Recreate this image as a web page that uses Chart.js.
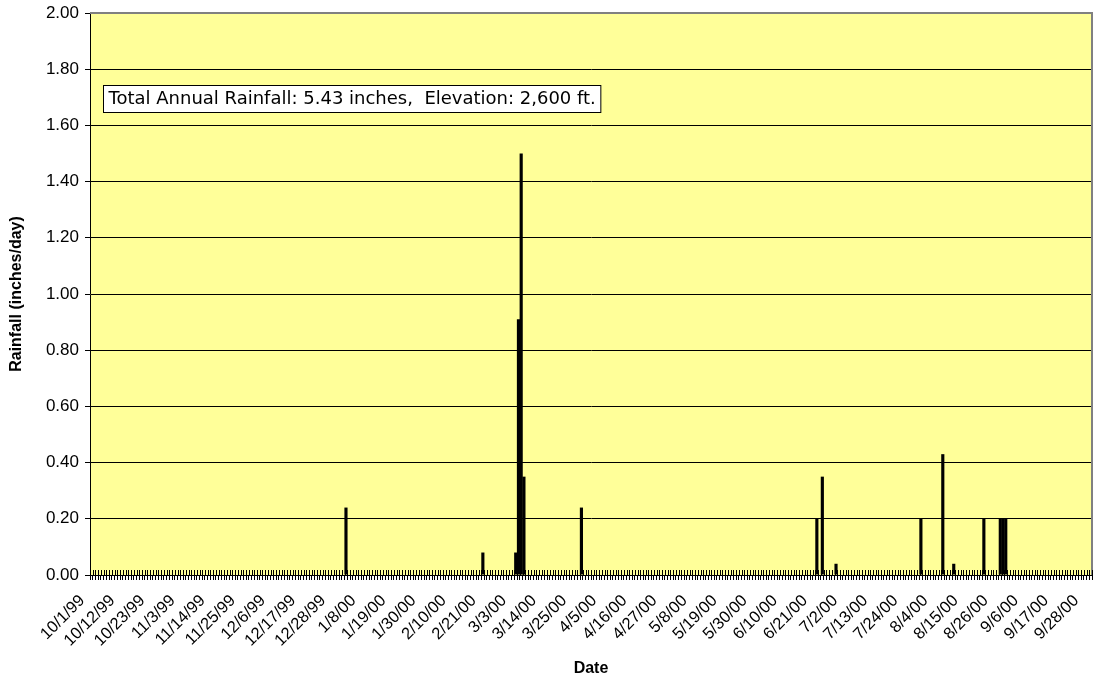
<!DOCTYPE html>
<html><head><meta charset="utf-8">
<script src="https://cdn.jsdelivr.net/npm/chart.js@4/dist/chart.umd.min.js"></script>
<style>html,body{margin:0;padding:0;background:#fff}canvas{display:block}</style>
</head><body>
<canvas id="c" width="1096" height="681"></canvas>
<script>
// Calendar: water year 10/1/99 .. 9/30/00 (daily categories)
const startYear = 1999, startMonth = 10, startDay = 1;
const dayCount = 366;
const labelEvery = 11;

// Rain events (inches/day)
const rainDates  = ['1/2/00','2/21/00','3/4/00','3/5/00','3/6/00','3/7/00','3/28/00',
                    '6/22/00','6/24/00','6/29/00','7/30/00','8/7/00','8/11/00','8/22/00',
                    '8/28/00','8/29/00','8/30/00'];
const rainInches = [0.24, 0.08, 0.08, 0.91, 1.50, 0.35, 0.24,
                    0.20, 0.35, 0.04, 0.20, 0.43, 0.04, 0.20,
                    0.20, 0.20, 0.20];

const yMin = 0, yMax = 2, yStep = 0.2;
const noteText = 'Total Annual Rainfall: 5.43 inches,  Elevation: 2,600 ft.';
const xTitle = 'Date';
const yTitle = 'Rainfall (inches/day)';

// build categories
const categories = [];
for (let i = 0; i < dayCount; i++) {
  const d = new Date(startYear, startMonth - 1, startDay + i);
  categories.push((d.getMonth() + 1) + '/' + d.getDate() + '/' + String(d.getFullYear()).slice(2));
}
const daily = categories.map(c => {
  const k = rainDates.indexOf(c);
  return k >= 0 ? rainInches[k] : 0;
});

const bgPlugin = {
  id: 'bg',
  beforeDraw(chart) {
    const {ctx, chartArea: a} = chart;
    ctx.save();
    ctx.fillStyle = '#FFFF99';
    ctx.fillRect(a.left, a.top, a.right - a.left, a.bottom - a.top);
    ctx.restore();
  },
  afterDatasetsDraw(chart) {
    const {ctx, chartArea: a, scales} = chart;
    const xs = scales.x, ys = scales.y;
    ctx.save();
    // plot border (top/right) grey
    ctx.strokeStyle = '#808080';
    ctx.lineWidth = 2;
    ctx.beginPath();
    ctx.moveTo(a.left, a.top);
    ctx.lineTo(a.right, a.top);
    ctx.lineTo(a.right, a.bottom);
    ctx.stroke();
    // category tick marks crossing above the axis
    ctx.strokeStyle = '#000';
    ctx.lineWidth = 1;
    const w = xs.getPixelForValue(1) - xs.getPixelForValue(0);
    ctx.beginPath();
    for (let i = 0; i <= categories.length; i++) {
      const x = Math.round(xs.getPixelForValue(i) - w / 2) + 0.5;
      ctx.moveTo(x, a.bottom - 5);
      ctx.lineTo(x, a.bottom);
    }
    ctx.stroke();
    // text box
    ctx.font = '18px "DejaVu Sans", Verdana, sans-serif';
    ctx.textBaseline = 'middle';
    ctx.textAlign = 'left';
    const tw = ctx.measureText(noteText).width;
    const bx = Math.round(a.left + 13) + 0.5;
    const cy = ys.getPixelForValue(1.695);
    const bh = 27;
    const by = Math.round(cy - bh / 2) + 0.5;
    ctx.fillStyle = '#fff';
    ctx.fillRect(bx, by, tw + 10, bh);
    ctx.strokeStyle = '#000';
    ctx.strokeRect(bx, by, tw + 10, bh);
    ctx.fillStyle = '#000';
    ctx.fillText(noteText, bx + 5, cy + 1);
    ctx.restore();
  }
};

new Chart(document.getElementById('c'), {
  type: 'bar',
  data: {
    labels: categories,
    datasets: [{
      data: daily,
      backgroundColor: '#000',
      borderWidth: 0,
      categoryPercentage: 1,
      barPercentage: 1.15
    }]
  },
  options: {
    responsive: false,
    devicePixelRatio: 1,
    animation: false,
    layout: { padding: { top: 13, right: 4, left: 0, bottom: 0 } },
    plugins: { legend: { display: false }, tooltip: { enabled: false } },
    scales: {
      x: {
        offset: true,
        grid: { display: true, drawOnChartArea: false, drawTicks: true, tickLength: 5, color: '#000', offset: true },
        border: { color: '#000', width: 1 },
        ticks: {
          autoSkip: false, maxRotation: 45, minRotation: 45, padding: 11, labelOffset: -9,
          color: '#000',
          font: { family: '"Liberation Sans", Arial, sans-serif', size: 16.5 },
          callback: function(v, i) { return i % labelEvery === 0 ? categories[i] : ''; }
        },
        title: { display: true, text: xTitle, color: '#000',
                 font: { family: '"Liberation Sans", Arial, sans-serif', size: 16, weight: 'bold' },
                 padding: { top: 0, bottom: 3 } },
        afterFit(s) { s.height = 106; s.paddingLeft = 0; s.paddingRight = 0; }
      },
      y: {
        min: yMin, max: yMax,
        ticks: { stepSize: yStep, color: '#000', padding: 6,
                 font: { family: '"Liberation Sans", Arial, sans-serif', size: 17 },
                 callback: v => Number(v).toFixed(2) },
        grid: { color: '#000', lineWidth: 1, tickLength: 5 },
        border: { color: '#000', width: 1 },
        title: { display: true, text: yTitle, color: '#000',
                 font: { family: '"Liberation Sans", Arial, sans-serif', size: 16, weight: 'bold' },
                 padding: { top: 7, bottom: 0 } },
        afterFit(s) { s.width = 90; s.paddingTop = 0; s.paddingBottom = 0; }
      }
    }
  },
  plugins: [bgPlugin]
});
</script>
</body></html>
